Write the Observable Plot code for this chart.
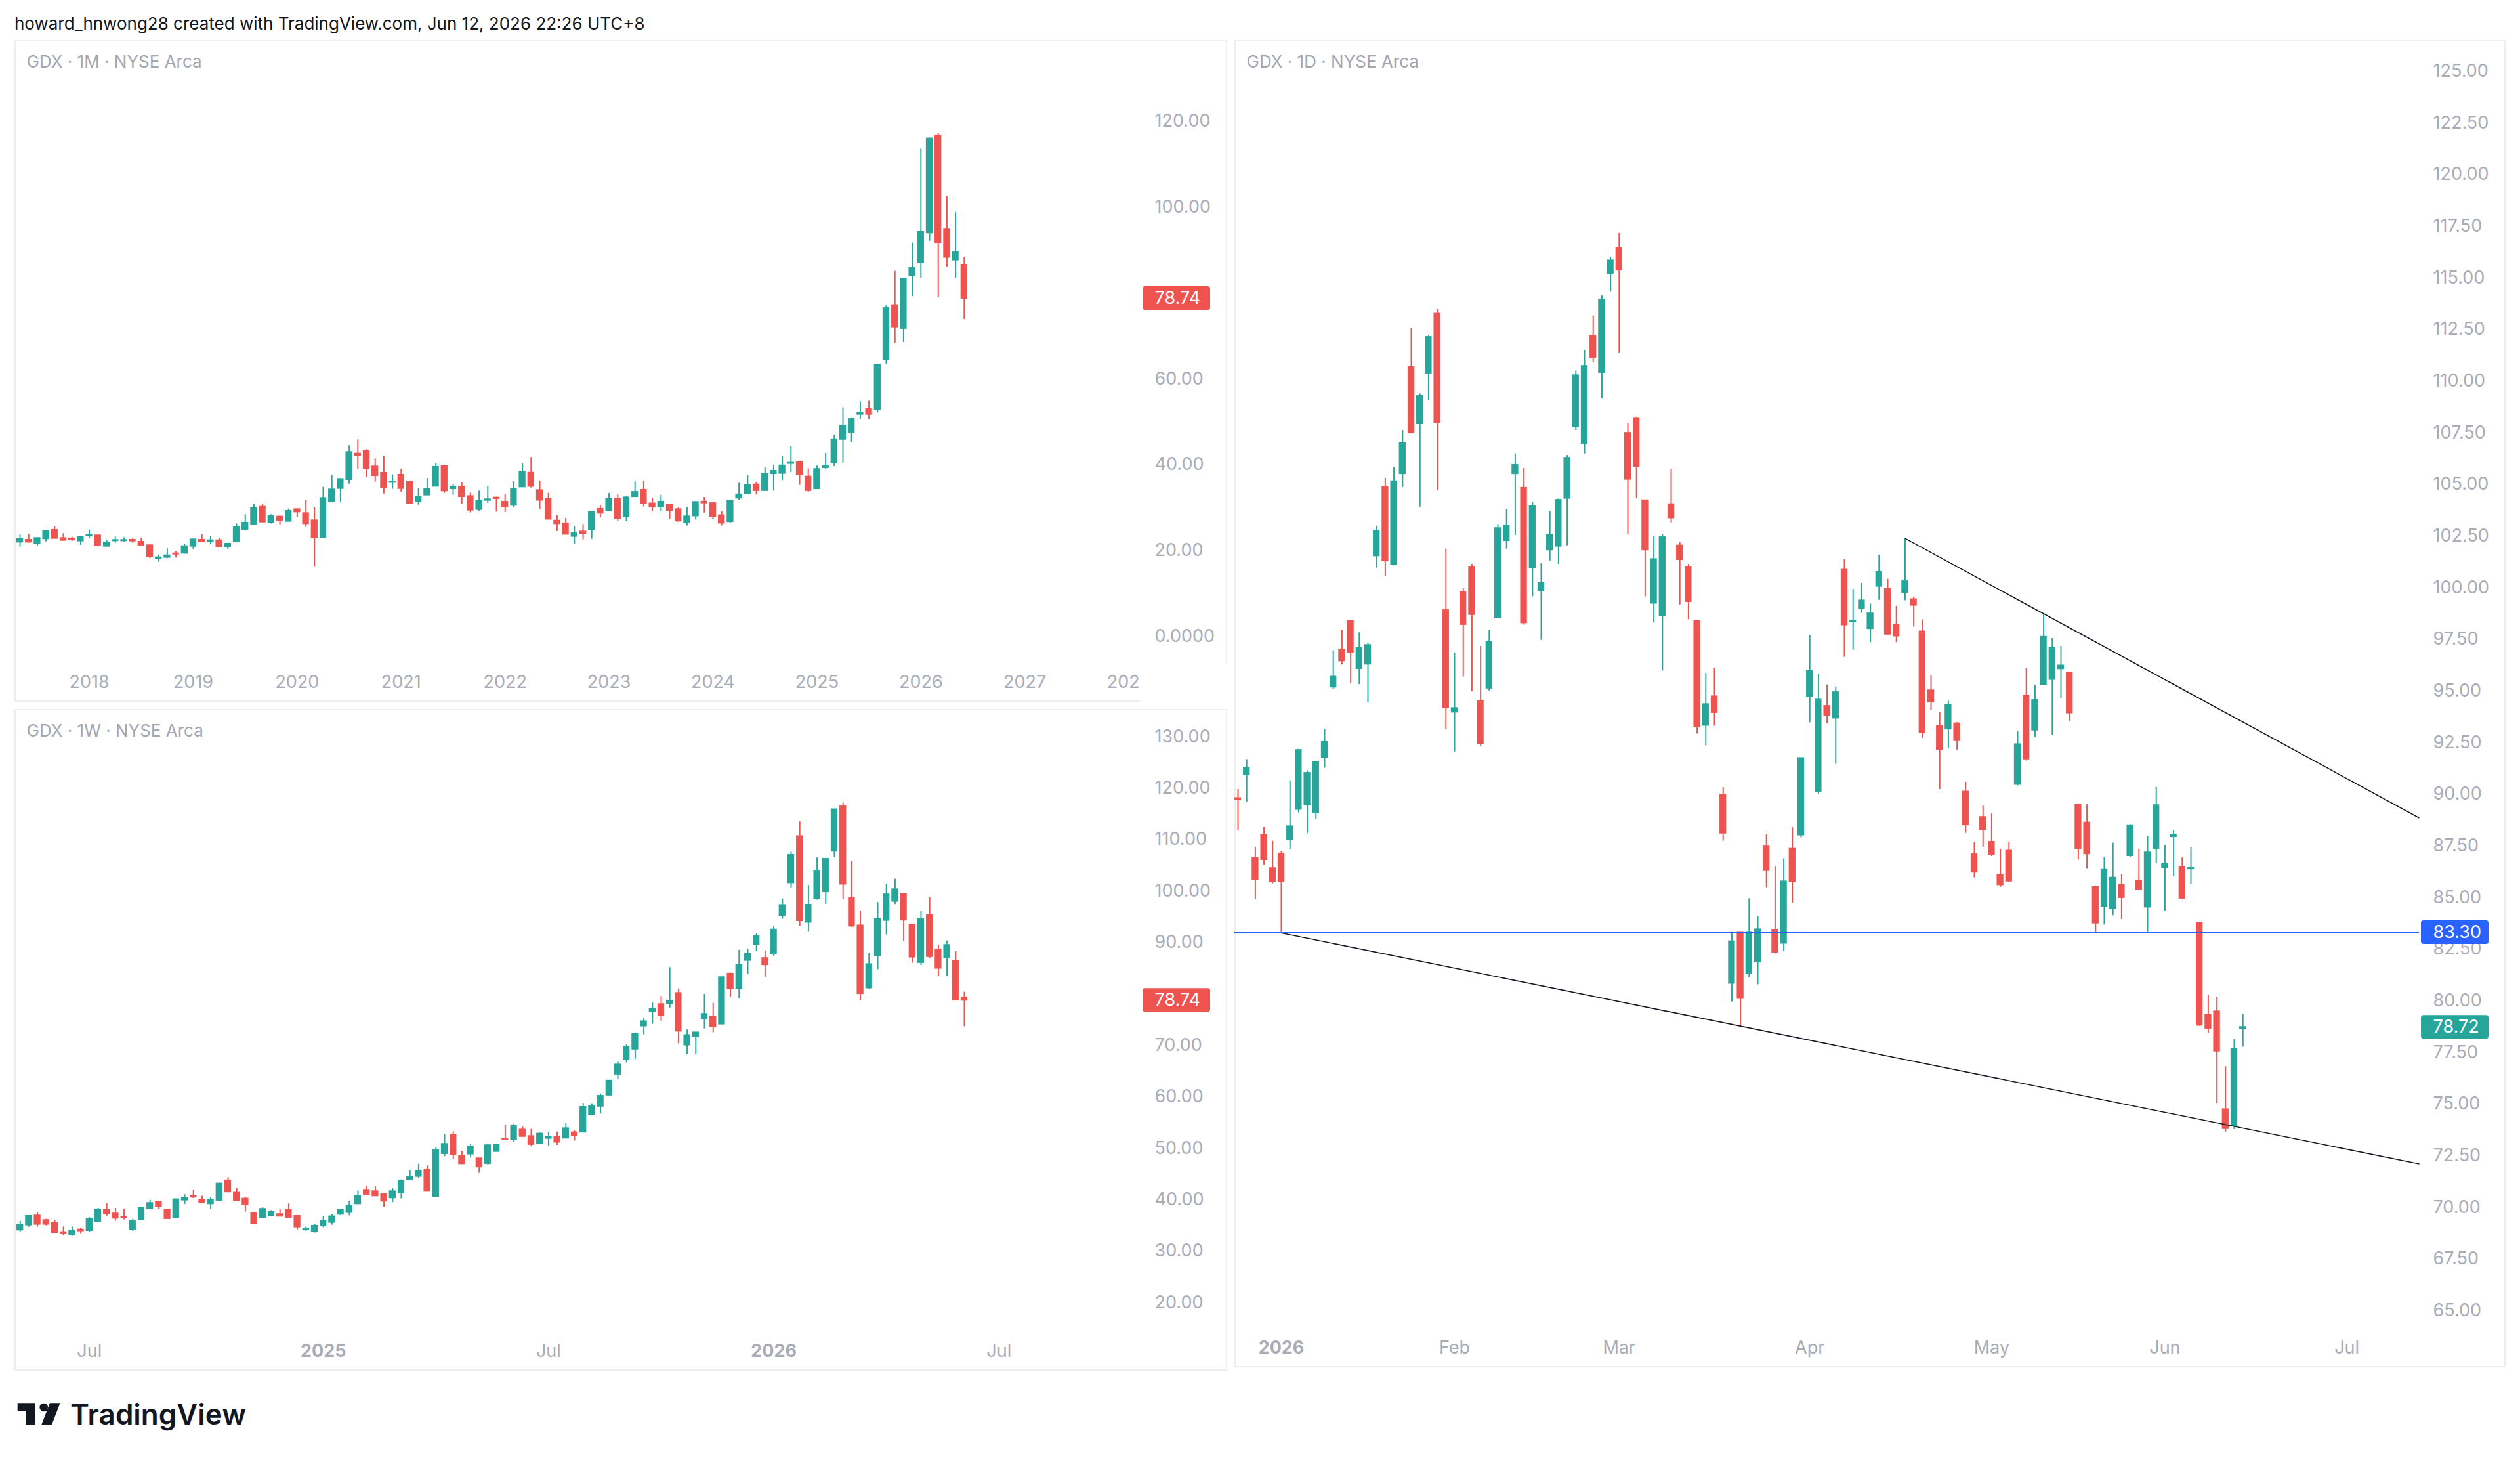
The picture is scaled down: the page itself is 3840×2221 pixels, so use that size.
<!DOCTYPE html>
<html>
<head>
<meta charset="utf-8">
<script src="https://cdn.jsdelivr.net/npm/d3@7"></script>
<script src="https://cdn.jsdelivr.net/npm/@observablehq/plot@0.6"></script>
<style>
html,body{margin:0;padding:0;background:#fff;}
#page{position:relative;width:3840px;height:2221px;overflow:hidden;font-family:Inter,"Noto Sans",sans-serif;background:#fff;}
.border{position:absolute;box-sizing:border-box;border:2px solid #ECEEF2;}
.chart{position:absolute;}
.chart svg{display:block;}
#header{position:absolute;left:22px;top:20px;font-size:26px;line-height:32px;color:#131722;white-space:nowrap;}
#logo{position:absolute;left:20px;top:2125px;}
</style>
</head>
<body>
<div id="page">
  <div id="header">howard_hnwong28 created with TradingView.com, Jun 12, 2026 22:26 UTC+8</div>
  <div class="border" style="left:22px;top:61px;width:1848px;height:1008px;"></div>
  <div class="border" style="left:22px;top:1080px;width:1848px;height:1008px;"></div>
  <div class="border" style="left:1881px;top:61px;width:1937px;height:2022px;"></div>
  <div class="chart" id="monthly" style="left:22px;top:61px;"></div>
  <div class="chart" id="weekly" style="left:22px;top:1080px;"></div>
  <div class="chart" id="daily" style="left:1881px;top:61px;"></div>
  <svg id="logo" width="400" height="70" viewBox="0 0 400 70">
    <path d="M6.7 12.3H33.3V45H19.3V25H6.7Z" fill="#131722"/>
    <circle cx="46.7" cy="19" r="6.3" fill="#131722"/>
    <path d="M56 12.3H71.7L59 45H43.3Z" fill="#131722"/>
    <text x="87" y="45" font-family="Inter, sans-serif" font-weight="600" font-size="44" fill="#131722">TradingView</text>
  </svg>
</div>
<script>
// ---------------- DATA ----------------
// Monthly GDX (May 2017 .. Jun 2026), index 0 = May 2017
const monthlyOpen = [21.96,22.47,21.61,22.73,24.76,22.88,22.73,22.22,23.44,23.49,
20.99,22.27,22.27,22.47,22.01,21.2,18.14,18.40,19.31,19.36,
20.99,22.47,22.01,22.37,20.79,22.01,24.82,26.09,30.16,26.55,
27.87,26.80,29.60,28.69,27.01,22.98,31.39,34.44,36.53,42.55,
43.11,39.54,38.06,35.87,37.60,35.92,31.44,32.92,34.95,39.59,
34.39,34.85,32.66,29.55,31.69,32.30,31.34,30.52,34.80,38.10,
34.03,31.99,26.94,26.31,23.29,24.41,24.76,29.67,29.25,31.99,
27.85,32.55,34.10,30.94,30.24,30.66,29.6,26.52,28.06,31.36,
31.01,28.20,26.73,32.20,33.32,35.36,33.96,37.89,37.96,40.27,
40.55,37.19,34.38,39.29,40.41,45.89,47.50,51.71,52.98,52.84,
64.41,77.11,71.71,84.0,87.08,93.96,116.49,94.73,87.64,86.52];
const monthlyHigh = [23.64,23.80,22.98,24.71,25.53,23.95,23.13,23.34,24.82,23.69,
22.47,23.18,23.03,22.73,22.88,21.35,19.01,20.43,19.82,21.40,
22.57,23.69,23.29,22.88,21.61,26.24,28.38,30.78,30.88,28.38,
28.08,29.71,29.66,31.74,29.96,34.75,37.55,36.7,44.43,45.81,
43.51,41.37,41.88,37.65,38.98,36.23,34.44,36.84,40.21,39.79,
35.36,35.82,33.43,33.88,35.0,32.46,33.17,36.06,40.27,41.68,
36.20,33.39,28.13,27.5,25.6,26.10,29.18,30.52,33.32,32.97,
32.55,36.06,36.2,32.20,32.90,30.87,30.03,30.03,31.43,32.41,
31.29,29.04,31.78,35.71,37.46,35.92,39.43,39.92,41.89,44.27,
40.83,39.08,39.71,42.66,46.94,53.26,50.94,54.66,54.80,63.22,
77.11,85.05,83.22,91.64,113.47,116.07,117.26,102.45,98.73,88.27];
const monthlyLow = [20.84,21.76,20.99,22.06,22.78,22.27,22.17,21.25,22.93,20.89,
20.89,21.76,22.01,21.76,21.04,18.19,17.33,18.19,18.29,19.21,
20.33,21.86,21.40,20.69,20.23,22.01,24.56,26.09,26.55,26.24,
26.04,26.80,27.82,25.43,16.26,22.98,31.23,31.23,35.51,38.88,
37.04,35.97,33.22,34.29,33.63,31.03,30.62,32.92,34.95,33.37,
32.92,30.78,28.79,29.20,31.03,28.99,28.89,29.96,34.8,34.59,
29.6,27.29,24.48,23.78,21.53,22.52,22.66,27.64,29.25,26.73,
26.73,32.41,30.17,29.04,29.04,27.29,26.66,25.75,27.15,28.76,
27.36,25.75,26.38,31.78,33.18,32.97,33.89,33.89,36.34,38.17,
35.22,33.54,34.38,38.8,39.57,40.41,45.19,50.52,50.52,52.06,
63.43,68.34,68.48,79.15,83.36,92.07,78.87,86.03,83.43,73.82];
const monthlyClose = [22.62,21.96,22.88,24.61,22.83,22.37,22.57,23.24,23.69,21.25,
21.86,22.42,22.42,22.22,21.15,18.55,18.40,18.85,19.16,20.99,
22.57,22.01,22.37,20.79,21.56,25.48,26.45,29.81,26.65,28.13,
27.06,29.20,28.99,26.24,22.98,32.20,34.19,36.63,42.90,42.14,
39.03,37.45,34.55,36.07,34.44,31.03,32.51,34.24,39.44,33.88,
34.85,32.56,29.40,31.59,31.90,32.10,30.17,34.38,38.31,34.94,
31.71,27.29,26.24,23.78,23.99,23.99,29.04,28.69,31.99,27.50,
32.34,33.61,30.94,30.10,31.36,29.32,26.87,27.92,31.29,31.08,
27.92,26.38,31.64,33.04,35.22,33.96,37.81,38.52,39.78,40.41,
37.68,33.96,38.94,39.71,45.89,48.98,50.59,52.06,51.71,63.22,
76.41,72.06,83.22,85.75,94.17,115.93,91.71,88.27,89.47,78.74];
const monthlyTickIndex = [8,20,32,44,56,68,80,92,104,116,128];
const monthlyTickText = ["2018","2019","2020","2021","2022","2023","2024","2025","2026","2027","2028"];
const monthlyPriceTicks = [0,20,40,60,100,120];

// Weekly GDX (week of May 6 2024 .. week of Jun 8 2026)
const weeklyOpen = [34.09,35.07,36.90,36.00,35.40,33.66,33.19,34.17,34.0,35.75,
38.08,37.28,36.60,34.17,36.13,38.21,39.53,38.04,36.55,39.91,
40.64,39.96,39.19,39.83,43.70,41.32,40.17,37.36,36.47,36.89,
37.15,38.0,36.81,34.17,33.79,34.89,35.57,37.15,37.49,39.19,
41.87,41.61,41.06,40.34,41.32,43.83,44.51,45.87,40.59,48.93,
52.59,48.46,48.85,47.99,47.02,49.35,51.72,51.63,53.59,52.32,
50.89,51.90,52.21,51.95,53.06,53.11,56.55,58.14,60.31,64.38,
67.18,69.25,73.74,76.55,77.98,78.14,80.14,70.04,71.68,75.17,
75.54,74.11,83.90,80.99,86.49,89.61,86.92,87.71,95.12,101.57,
110.62,93.90,98.50,99.82,107.71,116.43,98.61,93.26,81.15,87.34,
94.27,97.97,99.40,93.37,86.07,95.27,88.56,86.97,86.39,79.30];
const weeklyHigh = [35.79,36.81,37.45,36.21,36.0,34.72,34.72,34.51,36.51,38.34,
39.32,38.34,38.21,36.21,38.42,39.91,39.61,38.13,40.17,40.98,
41.91,40.68,40.51,43.23,44.29,42.17,40.47,37.49,38.42,37.91,
38.08,39.19,36.81,34.72,35.23,36.81,37.15,38.13,39.70,41.74,
42.63,42.55,41.11,42.21,43.87,45.61,46.93,46.59,50.12,52.71,
53.23,49.40,50.80,47.99,50.76,50.76,54.52,54.65,54.12,53.70,
52.96,53.01,53.17,54.75,53.38,58.72,58.67,60.57,63.2,66.87,
70.09,72.42,75.23,78.24,79.51,85.12,80.99,73.0,72.58,79.93,
78.19,83.27,84.06,88.50,88.72,91.68,88.40,93.05,98.45,107.55,
113.47,101.09,106.44,106.22,115.85,117.12,105.75,96.07,87.97,97.76,
101.36,102.31,99.40,93.37,96.07,98.71,89.46,90.30,88.29,80.36];
const weeklyLow = [33.79,34.68,34.68,34.94,33.49,32.98,32.90,33.28,33.66,35.57,
36.81,35.87,36.09,33.87,36.13,38.21,38.13,36.30,36.47,39.11,
40.25,39.40,38.17,39.70,41.40,39.79,37.62,35.19,36.47,36.72,
36.64,36.55,34.17,33.87,33.53,34.60,35.07,36.89,36.89,39.06,
40.89,40.72,38.55,39.45,40.17,43.83,44.21,41.53,40.38,48.38,
47.82,46.85,48.12,45.14,46.72,49.35,51.53,51.16,52.27,50.31,
50.89,50.36,50.58,51.95,51.42,53.11,56.55,56.66,60.2,63.32,
66.60,67.29,72.05,74.11,74.64,77.29,70.31,68.19,68.19,73.21,
72.47,74.11,79.35,79.09,83.80,88.29,83.27,87.23,94.53,100.62,
93.16,92.10,98.24,97.44,106.49,98.29,92.95,78.77,80.89,84.70,
91.47,97.39,90.25,85.97,85.54,86.86,83.37,83.37,78.77,73.64];
const weeklyClose = [35.15,36.81,35.19,35.19,33.49,33.36,33.87,33.92,36.21,38.08,
37.23,36.38,36.43,35.79,38.38,39.32,38.64,36.30,40.04,40.38,
40.47,39.49,39.96,43.10,41.49,39.79,39.02,35.40,38.17,37.57,
36.77,36.55,34.68,34.30,34.89,35.87,36.72,37.96,38.85,40.76,
41.02,40.72,39.70,41.61,43.61,44.42,45.49,41.61,49.57,50.80,
48.76,46.97,50.29,46.34,50.55,50.59,51.61,54.33,52.27,50.73,
52.80,52.21,51.16,53.85,52.43,57.98,58.19,60.15,63.11,66.23,
69.67,72.21,74.64,77.08,75.75,78.66,72.74,71.95,72.47,76.07,
73.59,83.21,80.99,85.54,87.76,91.20,85.65,92.47,97.23,106.97,
94.22,97.28,103.90,106.22,115.85,101.31,93.16,80.04,85.75,94.48,
99.30,100.30,94.32,87.13,94.48,87.23,84.96,89.46,78.77,78.74];
const weeklyTickIndex = [8,35,61,87,113];
const weeklyTickText = ["Jul","2025","Jul","2026","Jul"];
const weeklyTickBold = [false,true,false,true,false];
const weeklyPriceTicks = [20,30,40,50,60,70,90,100,110,120,130];

// Daily GDX (Dec 24 2025 .. Jun 12 2026), index 5 = Jan 2 2026
const dailyOpen = [89.80,90.94,86.91,88.04,86.41,87.12,87.78,89.26,89.47,89.10,
91.78,95.18,97.00,98.37,96.08,96.29,101.53,104.87,101.13,105.51,
110.67,107.93,110.38,113.25,98.90,93.97,99.77,101.00,94.52,95.13,
98.53,102.27,105.51,104.82,100.95,99.85,101.82,102.00,104.32,107.77,
106.98,112.17,110.41,115.20,116.44,107.48,108.20,104.22,99.24,98.63,
104.03,102.03,101.00,98.39,93.33,94.73,89.96,80.84,83.32,81.33,
81.87,87.49,83.43,82.78,87.35,88.02,94.71,90.12,94.26,93.68,
100.86,98.34,98.99,98.01,100.06,99.92,98.21,99.75,99.43,97.87,
95.02,93.30,93.15,93.42,90.12,87.08,88.89,87.69,86.10,87.26,
90.47,94.77,93.10,95.31,95.55,96.07,95.87,89.49,88.62,85.50,
84.57,84.45,85.59,87.02,85.81,84.53,87.37,86.42,87.94,86.48,
86.38,83.76,79.32,79.48,74.74,73.95,78.65];
const dailyHigh = [90.23,91.68,87.44,88.39,87.73,87.23,90.65,92.18,91.13,91.55,
93.15,96.95,97.92,98.37,97.82,97.32,102.98,105.30,105.80,107.61,
112.54,109.38,112.22,113.46,101.87,96.84,99.95,101.13,97.16,97.92,
103.06,103.80,106.48,105.77,104.14,101.16,103.69,104.30,106.40,110.49,
111.49,113.15,114.12,115.99,117.15,107.96,108.25,104.22,102.50,102.56,
105.74,102.19,101.13,98.39,95.85,96.11,90.32,83.34,83.34,84.94,
84.10,88.04,86.51,86.88,88.38,91.74,97.69,95.82,95.29,95.20,
101.37,99.92,100.21,99.21,101.57,100.41,99.10,102.38,99.55,98.45,
95.76,93.97,94.51,93.46,90.58,87.66,89.43,89.05,87.33,87.69,
93.04,96.09,95.27,98.74,97.54,97.16,95.89,89.54,89.51,85.55,
86.93,87.64,86.10,88.53,87.33,87.96,90.33,87.53,88.24,86.92,
87.43,83.80,80.27,80.19,76.81,78.13,79.36];
const dailyLow = [88.25,89.63,84.91,86.57,85.67,83.28,87.31,89.10,88.10,88.78,
91.26,95.08,96.26,95.37,95.31,94.44,100.95,100.56,101.06,104.85,
107.48,103.90,109.04,104.69,93.13,92.05,95.68,94.97,92.31,95.00,
98.53,101.87,102.53,98.19,99.56,97.45,101.29,101.13,102.03,107.61,
106.48,110.88,109.14,114.31,111.35,102.56,104.32,99.56,98.29,95.97,
103.14,99.16,98.45,92.92,92.35,93.30,87.73,79.95,78.75,81.13,
80.78,85.48,82.27,82.40,84.72,87.89,93.46,89.98,93.42,91.45,
96.63,96.98,98.76,97.34,99.39,97.69,97.34,99.37,98.10,92.70,
94.06,90.23,92.21,92.14,88.11,85.95,87.44,86.99,85.50,85.72,
90.41,91.61,92.75,95.31,92.84,94.62,93.53,86.82,86.37,83.30,
83.67,84.12,83.94,86.95,85.36,83.34,86.64,84.35,86.01,84.92,
85.65,78.77,78.43,75.03,73.65,73.77,77.76];
const dailyClose = [89.75,91.28,85.86,86.83,85.75,85.75,88.44,92.13,91.02,91.55,
92.52,95.68,96.45,96.87,97.08,97.21,102.74,101.29,105.14,106.98,
107.48,109.27,112.12,107.98,94.18,94.16,98.21,98.69,92.44,97.37,
102.87,102.98,105.93,98.29,103.93,100.21,102.53,104.24,106.27,110.27,
110.72,111.14,113.94,115.83,115.36,105.24,105.85,101.82,101.37,102.43,
103.37,101.35,99.32,93.26,94.35,93.95,88.11,82.87,80.11,83.32,
83.45,86.30,82.34,85.77,85.77,91.74,95.98,94.57,93.82,94.93,
98.19,98.38,99.37,98.74,100.75,97.74,97.65,100.30,99.14,92.97,
94.46,92.17,94.33,92.59,88.51,86.22,88.29,87.08,85.61,85.79,
92.41,91.70,94.55,97.61,97.09,96.22,93.93,87.35,87.11,83.76,
86.33,85.95,84.99,88.49,85.40,87.17,89.46,86.64,88.02,84.96,
86.42,78.81,78.65,77.56,73.81,77.66,78.72];
const dailyTickIndex = [5,25,44,66,87,107,128];
const dailyTickText = ["2026","Feb","Mar","Apr","May","Jun","Jul"];
const dailyTickBold = [true,false,false,false,false,false,false];
const dailyPriceTicks = [65,67.5,70,72.5,75,77.5,80,82.5,85,87.5,90,92.5,95,97.5,100,102.5,105,107.5,110,112.5,115,117.5,120,122.5,125];

// Drawings on the daily chart (bar index, price)
const trendFromIndex = [5, 77];
const trendFromPrice = [83.28, 102.38];
const trendToIndex = [136.36, 136.36];
const trendToPrice = [72.1, 88.85];
const levelPrice = [83.30];

// Last-price labels
const monthlyLast = 78.74, weeklyLast = 78.74, dailyLast = 78.72;

// ---------------- DRAWING ----------------
const UP = "#26A69A", DOWN = "#EF5350", BLUE = "#2962FF", AXIS = "#A9ACB6", TITLE = "#A3A6AF";

function makePanel(cfg) {
  const rows = cfg.open.map((o, i) => ({i, o, h: cfg.high[i], l: cfg.low[i], c: cfg.close[i]}));
  const col = d => (d.c >= d.o ? UP : DOWN);
  const [xa, xb] = cfg.xDomain, [ya, yb] = cfg.yDomain;
  const pxX = (cfg.width - cfg.mr) / (xb - xa);
  const pxY = (cfg.height - cfg.mb) / (yb - ya);
  const xl = cfg.tickIndex.map((i, k) => ({i, t: cfg.tickText[k], b: cfg.tickBold ? cfg.tickBold[k] : false}));
  const txt = {fontSize: 27, fill: AXIS};
  const marks = [
    Plot.ruleX(rows, {x: "i", y1: "l", y2: "h", stroke: col, strokeWidth: 2}),
    Plot.rect(rows, {x1: d => d.i - 0.39, x2: d => d.i + 0.39, y1: "o", y2: "c", fill: col, insetTop: -1, insetBottom: -1}),
    ...(cfg.extra || []),
    Plot.text(xl.filter(d => !d.b), {x: "i", text: "t", frameAnchor: "bottom", dy: 29, lineAnchor: "middle", ...txt}),
    Plot.text(xl.filter(d => d.b), {x: "i", text: "t", frameAnchor: "bottom", dy: 29, lineAnchor: "middle", fontWeight: 700, ...txt})
  ];
  if (cfg.cover) {
    marks.push(Plot.rect([0], {x1: () => xb, x2: () => xb + cfg.mr / pxX, y1: () => ya, y2: () => ya - cfg.mb / pxY, fill: "white"}));
  }
  marks.push(Plot.text(cfg.priceTicks, {y: d => d, text: cfg.fmt, frameAnchor: "right", dx: 21, textAnchor: "start", lineAnchor: "middle", ...txt}));
  const boxes = cfg.boxes;
  marks.push(Plot.rect(boxes, {x1: () => xb + 3 / pxX, x2: () => xb + 106 / pxX, y1: d => d.p - 18 / pxY, y2: d => d.p + 18 / pxY, fill: d => d.fill, rx: 4}));
  marks.push(Plot.text(boxes, {y: "p", text: d => d.p.toFixed(2), frameAnchor: "right", dx: 21, textAnchor: "start", lineAnchor: "middle", fontSize: 27, fill: "white"}));
  marks.push(Plot.text([cfg.title], {text: d => d, frameAnchor: "top-left", dx: 18, dy: 33, textAnchor: "start", lineAnchor: "middle", fontSize: 26, fill: TITLE}));
  return Plot.plot({
    width: cfg.width, height: cfg.height,
    marginLeft: 0, marginRight: cfg.mr, marginTop: 0, marginBottom: cfg.mb,
    x: {type: "linear", domain: cfg.xDomain, axis: null},
    y: {type: "linear", domain: cfg.yDomain, axis: null},
    color: {type: "identity"},
    style: {background: "transparent", fontFamily: "Inter, 'Noto Sans', sans-serif", overflow: "visible"},
    marks
  });
}

const fmt2 = v => (v === 0 ? "0.0000" : v.toFixed(2));

document.getElementById("monthly").append(makePanel({
  open: monthlyOpen, high: monthlyHigh, low: monthlyLow, close: monthlyClose,
  width: 1848, height: 1008, mr: 132, mb: 59,
  xDomain: [-8 / 13.2, (1716 - 8) / 13.2],
  yDomain: [(908 - 949) / 6.542, 908 / 6.542],
  tickIndex: monthlyTickIndex, tickText: monthlyTickText,
  priceTicks: monthlyPriceTicks, fmt: fmt2, cover: true,
  boxes: [{p: monthlyLast, fill: DOWN}],
  title: "GDX · 1M · NYSE Arca"
}));

document.getElementById("weekly").append(makePanel({
  open: weeklyOpen, high: weeklyHigh, low: weeklyLow, close: weeklyClose,
  width: 1848, height: 1008, mr: 132, mb: 59,
  xDomain: [-8.2 / 13.2, (1716 - 8.2) / 13.2],
  yDomain: [130 - (949 - 41.6) / 7.837, 130 + 41.6 / 7.837],
  tickIndex: weeklyTickIndex, tickText: weeklyTickText, tickBold: weeklyTickBold,
  priceTicks: weeklyPriceTicks, fmt: fmt2,
  boxes: [{p: weeklyLast, fill: DOWN}],
  title: "GDX · 1W · NYSE Arca"
}));

const trendRows = trendFromIndex.map((x1, k) => ({x1, y1: trendFromPrice[k], x2: trendToIndex[k], y2: trendToPrice[k]}));
document.getElementById("daily").append(makePanel({
  open: dailyOpen, high: dailyHigh, low: dailyLow, close: dailyClose,
  width: 1937, height: 2022, mr: 132, mb: 59,
  xDomain: [-5 / 13.2, (1805 - 5) / 13.2],
  yDomain: [65 - 28 / 31.47, 65 + 1935 / 31.47],
  tickIndex: dailyTickIndex, tickText: dailyTickText, tickBold: dailyTickBold,
  priceTicks: dailyPriceTicks, fmt: v => v.toFixed(2),
  extra: [
    Plot.link(trendRows, {x1: "x1", y1: "y1", x2: "x2", y2: "y2", stroke: "#131722", strokeWidth: 1.6}),
    Plot.ruleY(levelPrice, {stroke: BLUE, strokeWidth: 3})
  ],
  boxes: [{p: levelPrice[0], fill: BLUE}, {p: dailyLast, fill: UP}],
  title: "GDX · 1D · NYSE Arca"
}));
</script>
</body>
</html>
